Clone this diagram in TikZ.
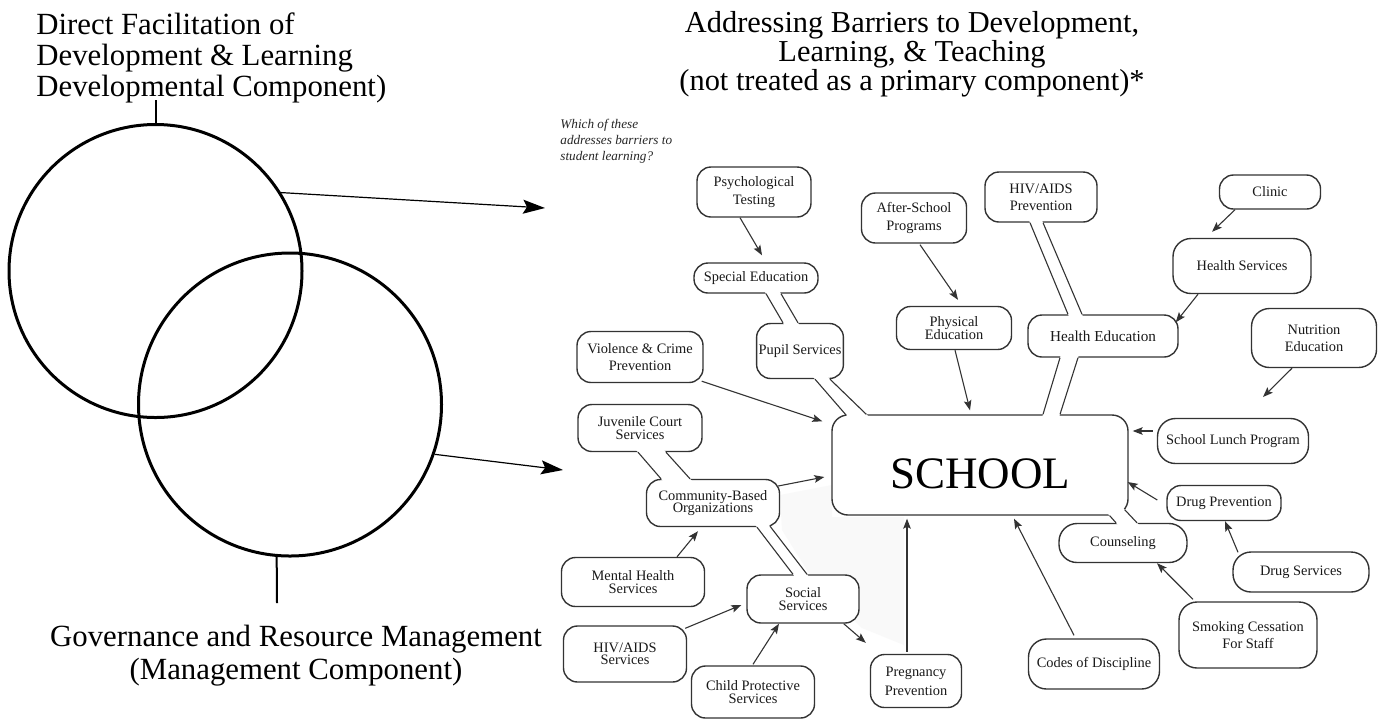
\documentclass[tikz,border=0pt]{standalone}
\usepackage{fontspec}
\setmainfont{Liberation Serif}
\usetikzlibrary{arrows.meta,calc}
\newcommand\nolsk{\lineskiplimit=-20pt\relax}
\tikzset{
  bx/.style={draw=black!80, fill=white, line width=0.7pt, rounded corners=7pt, align=center, inner sep=1pt, text=black!90, font={\fontsize{7.2}{8.7}\selectfont}},
  tight/.style={font={\fontsize{7.2}{6.2}\selectfont\nolsk}},
  mid/.style={font={\fontsize{7.2}{6.8}\selectfont\nolsk}},
  sz/.style 2 args={minimum width={#1*0.5pt}, minimum height={#2*0.5pt}},
  ln/.style={draw=black!80, line width=0.55pt},
  arr/.style={ln, -{Stealth[length=5pt,width=3.8pt,inset=1pt]}},
  bigarr/.style={draw=black, line width=0.6pt, -{Stealth[length=11pt,width=7pt,inset=2pt]}},
  ring/.style={circle, draw=black, line width=1.5pt, inner sep=0pt},
  ttl/.style={inner sep=0pt, text=black},
}
\newcommand\dblpipe[4]{%
  \fill[white] ($(#1)!-1.5pt!(#2)$) -- ($(#2)!-1.5pt!(#1)$) -- ($(#4)!-1.5pt!(#3)$) -- ($(#3)!-1.5pt!(#4)$) -- cycle;
  \draw[ln] (#1) -- (#2) (#3) -- (#4);}
\begin{document}
\begin{tikzpicture}[x=0.5pt,y=-0.5pt]
\useasboundingbox[fill=white] (0,0) rectangle (1384,719);

% titles
\node[ttl, anchor=north west, align=left, font={\fontsize{15.4}{15.5}\selectfont}] (tl) at (36,12)
  {Direct Facilitation of\\Development \& Learning\\Developmental Component)};
\node[ttl, anchor=north, align=center, font={\fontsize{15.2}{14.6}\selectfont}] (tr) at (912,11)
  {Addressing Barriers to Development,\\Learning, \& Teaching\\(not treated as a primary component)*};
\node[ttl, anchor=north, align=center, font={\fontsize{15.4}{16.5}\selectfont}] (tb) at (296,625)
  {Governance and Resource Management\\(Management Component)};
\node[ttl, anchor=north west, align=left, text=black!85, font={\fontsize{6.6}{8}\selectfont\itshape}] (q) at (560,119)
  {Which of these\\addresses barriers to\\student learning?};

% circles
\node[ring, minimum size=146.5pt] (c1) at (155.5,271) {};
\node[ring, minimum size=151.5pt] (c2) at (290,404.5) {};
\coordinate (t1) at (155.5,100);
\coordinate (t2) at (277,603);
\draw[line width=1pt] (t1) -- (c1.north);
\draw[line width=1pt] (t2) -- (c2.265);
\coordinate (tip1) at (545,208);
\coordinate (tip2) at (563,470);
\draw[bigarr] (c1.32) -- (tip1);
\draw[bigarr] (c2.-19) -- (tip2);

% faint shading
\fill[black!2.5] (780,495) -- (832,485) -- (832,517) -- (904,517) -- (904,645) -- (862,628) -- (812,578) -- (782,530) -- cycle;

% boxes
\node[bx, sz={296}{100}, rounded corners=8pt, font={\fontsize{22.5}{27}\selectfont}, text=black, text height=24pt] (school) at (980,465) {SCHOOL};
\node[bx, sz={114}{50}] (psych) at (754,192) {Psychological\\Testing};
\node[bx, sz={124}{30}] (sped) at (756,278) {Special Education};
\node[bx, sz={86}{55}] (pupil) at (800,351) {Pupil Services};
\node[bx, sz={126}{51}] (viol) at (640,357) {Violence \& Crime\\Prevention};
\node[bx, mid, sz={124}{47}] (juv) at (640,428) {Juvenile Court\\Services};
\node[bx, tight, sz={133}{47}] (cbo) at (713,503) {Community-Based\\Organizations};
\node[bx, tight, sz={143}{49}] (mental) at (633,582) {Mental Health\\Services};
\node[bx, tight, sz={123}{56}] (hivs) at (625,654) {HIV/AIDS\\Services};
\node[bx, tight, sz={123}{52}] (child) at (753,692) {Child Protective\\Services};
\node[bx, tight, sz={112}{48}] (social) at (803,599) {Social\\Services};
\node[bx, font={\fontsize{7.2}{9.5}\selectfont}, sz={91}{53}] (preg) at (916,681) {Pregnancy\\Prevention};
\node[bx, sz={105}{50}] (after) at (914,218) {After-School\\Programs};
\node[bx, tight, sz={115}{43}] (phys) at (954,328) {Physical\\Education};
\node[bx, sz={112}{50}] (hivp) at (1041,197) {HIV/AIDS\\Prevention};
\node[bx, font={\fontsize{7.6}{9}\selectfont}, sz={150}{42}] (healthed) at (1103,336) {Health Education};
\node[bx, sz={101}{34}] (clinic) at (1270,192) {Clinic};
\node[bx, rounded corners=9pt, sz={138}{55}] (healths) at (1242,266) {Health Services};
\node[bx, rounded corners=9pt, sz={125}{59}] (nutr) at (1314,338) {Nutrition\\Education};
\node[bx, rounded corners=9pt, sz={151}{45}] (lunch) at (1233,441) {School Lunch Program};
\node[bx, sz={114}{35}] (drugp) at (1224,503) {Drug Prevention};
\node[bx, rounded corners=9pt, sz={128}{39}] (couns) at (1123,543) {Counseling};
\node[bx, rounded corners=9pt, sz={136}{40}] (drugs) at (1301,572) {Drug Services};
\node[bx, rounded corners=9pt, sz={138}{66}] (smoke) at (1248,635) {Smoking Cessation\\For Staff};
\node[bx, rounded corners=9pt, sz={131}{50}] (codes) at (1094,664) {Codes of Discipline};

% pipes (double-line links)
\coordinate (p1a) at ($(sped.south)+(10,0)$);   \coordinate (p1b) at ($(pupil.north)+(-17,0)$);
\coordinate (p1c) at ($(sped.south)+(25,0)$);   \coordinate (p1d) at ($(pupil.north)+(-2,0)$);
\dblpipe{p1a}{p1b}{p1c}{p1d}
\coordinate (p2a) at ($(pupil.south)+(15,0)$);  \coordinate (p2b) at ($(school.north west)+(15,1)$);
\coordinate (p2c) at ($(pupil.south)+(30,0)$);  \coordinate (p2d) at ($(school.north west)+(35,0)$);
\dblpipe{p2a}{p2b}{p2c}{p2d}
\coordinate (p3a) at ($(juv.south)+(-2,0)$);    \coordinate (p3b) at ($(cbo.north)+(-52,0)$);
\coordinate (p3c) at ($(juv.south)+(26,0)$);    \coordinate (p3d) at ($(cbo.north)+(-23,0)$);
\dblpipe{p3a}{p3b}{p3c}{p3d}
\coordinate (p4a) at ($(cbo.south)+(44,0)$);    \coordinate (p4b) at ($(social.north)+(-10,0)$);
\coordinate (p4c) at ($(cbo.south)+(57,-1)$);   \coordinate (p4d) at ($(social.north)+(4,0)$);
\dblpipe{p4a}{p4b}{p4c}{p4d}
\coordinate (p5a) at ($(hivp.south)+(-11,0)$);  \coordinate (p5b) at ($(healthed.north)+(-35,0)$);
\coordinate (p5c) at ($(hivp.south)+(2,0)$);    \coordinate (p5d) at ($(healthed.north)+(-21,0)$);
\dblpipe{p5a}{p5b}{p5c}{p5d}
\coordinate (p6a) at ($(healthed.south)+(-43,0)$); \coordinate (p6b) at ($(school.north)+(63,0)$);
\coordinate (p6c) at ($(healthed.south)+(-25,0)$); \coordinate (p6d) at ($(school.north)+(80,0)$);
\dblpipe{p6a}{p6b}{p6c}{p6d}
\coordinate (p7a) at ($(school.south east)+(-19,0)$); \coordinate (p7b) at ($(couns.north)+(-7,0)$);
\coordinate (p7c) at ($(school.south east)+(-4,-6)$); \coordinate (p7d) at ($(couns.north)+(14,0)$);
\dblpipe{p7a}{p7b}{p7c}{p7d}

% arrows
\coordinate (nfree) at (1263,397);
\draw[arr] ($(psych.south)+(-14,0)$) -- ($(sped.north)+(6,-7)$);
\draw[arr] ($(after.south)+(6,1)$) -- ($(phys.north)+(4,-6)$);
\draw[arr] ($(phys.south)+(1,0)$) -- ($(school.north)+(-10,-4)$);
\draw[arr] ($(clinic.south)+(-35,0)$) -- ($(healths.north)+(-30,-6)$);
\draw[arr] ($(healths.south)+(-44,0)$) -- ($(healthed.north east)+(-3,8)$);
\draw[arr] ($(nutr.south)+(-22,0)$) -- (nfree);
\draw[arr] ($(lunch.west)+(-4,-10)$) -- ($(school.east)+(4,-34)$);
\draw[arr] ($(drugp.west)+(-9,-3)$) -- ($(school.east)+(-1,17)$);
\draw[arr] ($(drugs.north)+(-63,1)$) -- ($(drugp.south)+(1,0)$);
\draw[arr] ($(smoke.north)+(-55,-2)$) -- ($(couns.south)+(34,0)$);
\draw[arr] ($(codes.north)+(-20,-3)$) -- ($(school.south)+(34,3)$);
\draw[arr] ($(preg.north)+(-9,-2)$) -- ($(school.south)+(-73,3)$);
\draw[arr] ($(social.south east)+(-16,0)$) -- ($(preg.north west)+(-4,-11)$);
\draw[arr] ($(child.north)+(0,-1)$) -- ($(social.south)+(-24,0)$);
\draw[arr] ($(hivs.north east)+(-2,3)$) -- ($(social.west)+(-5,6)$);
\draw[arr] ($(mental.north)+(44,0)$) -- ($(cbo.south)+(-15,4)$);
\draw[arr] ($(cbo.east)+(-2,-17)$) -- ($(school.west)+(-7,12)$);
\draw[arr] ($(viol.south east)+(-2,-2)$) -- ($(school.north west)+(-9,7)$);
\end{tikzpicture}
\end{document}
